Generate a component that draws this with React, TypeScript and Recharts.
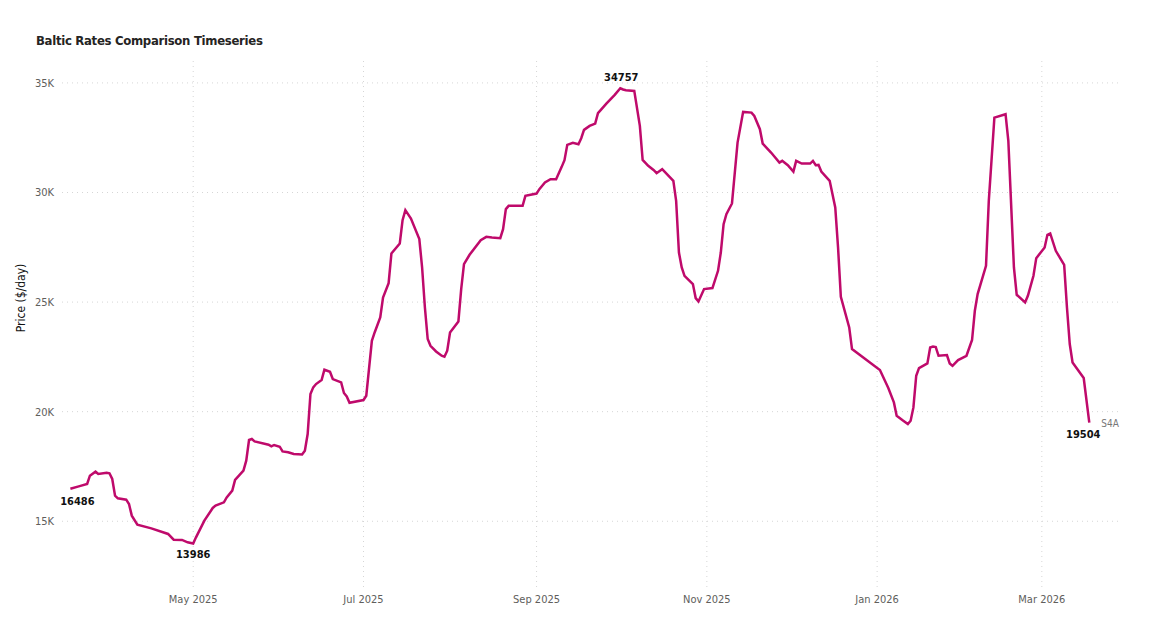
import React from 'react';
import { LineChart, Line, XAxis, YAxis, ReferenceLine } from 'recharts';

const dates = [
  '2025-03-18','2025-03-21','2025-03-24','2025-03-25','2025-03-27','2025-03-28','2025-03-31','2025-04-01','2025-04-02','2025-04-03',
  '2025-04-04','2025-04-07','2025-04-08','2025-04-09','2025-04-11','2025-04-16','2025-04-22','2025-04-24','2025-04-27','2025-04-29',
  '2025-05-01','2025-05-02','2025-05-05','2025-05-08','2025-05-09','2025-05-12','2025-05-13','2025-05-15','2025-05-16','2025-05-19',
  '2025-05-20','2025-05-21','2025-05-22','2025-05-23','2025-05-28','2025-05-29','2025-05-30','2025-06-01','2025-06-02','2025-06-04',
  '2025-06-06','2025-06-09','2025-06-10','2025-06-11','2025-06-12','2025-06-13','2025-06-14','2025-06-16','2025-06-17','2025-06-19',
  '2025-06-20','2025-06-23','2025-06-24','2025-06-25','2025-06-26','2025-07-01','2025-07-02','2025-07-04','2025-07-05','2025-07-07',
  '2025-07-08','2025-07-10','2025-07-11','2025-07-14','2025-07-15','2025-07-16','2025-07-18','2025-07-21','2025-07-22','2025-07-23',
  '2025-07-24','2025-07-25','2025-07-27','2025-07-29','2025-07-30','2025-07-31','2025-08-01','2025-08-04','2025-08-05','2025-08-06',
  '2025-08-08','2025-08-12','2025-08-14','2025-08-16','2025-08-19','2025-08-20','2025-08-21','2025-08-22','2025-08-27','2025-08-28',
  '2025-09-01','2025-09-02','2025-09-04','2025-09-06','2025-09-08','2025-09-10','2025-09-11','2025-09-12','2025-09-14','2025-09-16',
  '2025-09-17','2025-09-18','2025-09-20','2025-09-22','2025-09-23','2025-09-26','2025-09-29','2025-10-01','2025-10-02','2025-10-03',
  '2025-10-06','2025-10-08','2025-10-09','2025-10-11','2025-10-13','2025-10-14','2025-10-16','2025-10-20','2025-10-21','2025-10-22',
  '2025-10-23','2025-10-24','2025-10-27','2025-10-28','2025-10-29','2025-10-31','2025-11-03','2025-11-05','2025-11-06','2025-11-07',
  '2025-11-08','2025-11-10','2025-11-12','2025-11-14','2025-11-17','2025-11-18','2025-11-20','2025-11-21','2025-11-24','2025-11-27',
  '2025-11-28','2025-11-30','2025-12-02','2025-12-03','2025-12-05','2025-12-08','2025-12-09','2025-12-10','2025-12-11','2025-12-12',
  '2025-12-15','2025-12-17','2025-12-18','2025-12-19','2025-12-22','2025-12-23','2026-01-02','2026-01-05','2026-01-07','2026-01-08',
  '2026-01-10','2026-01-12','2026-01-13','2026-01-14','2026-01-15','2026-01-16','2026-01-19','2026-01-20','2026-01-21','2026-01-22',
  '2026-01-23','2026-01-26','2026-01-27','2026-01-28','2026-01-30','2026-02-02','2026-02-04','2026-02-05','2026-02-06','2026-02-09',
  '2026-02-10','2026-02-12','2026-02-16','2026-02-17','2026-02-19','2026-02-20','2026-02-23','2026-02-24','2026-02-26','2026-02-27',
  '2026-03-02','2026-03-03','2026-03-04','2026-03-06','2026-03-09','2026-03-10','2026-03-11','2026-03-12','2026-03-16','2026-03-18',
];

const s4a = [
  16486,16590,16700,17080,17262,17155,17216,17190,16928,16167,
  16045,15985,15788,15255,14845,14677,14420,14160,14150,14040,
  13986,14266,15027,15607,15712,15863,16090,16395,16883,17307,
  17763,18707,18752,18643,18493,18415,18480,18402,18188,18150,
  18070,18050,18220,18980,20805,21110,21260,21443,21913,21822,
  21489,21333,20850,20696,20408,20530,20727,23235,23614,24297,
  25210,25866,27216,27672,28739,29195,28812,27873,26578,24754,
  23313,23007,22748,22551,22506,22780,23614,24115,25593,26733,
  27157,27827,27978,27950,27918,28329,29241,29391,29391,29847,
  29952,30153,30454,30609,30609,31170,31475,32173,32264,32204,
  32477,32857,33040,33145,33618,34058,34453,34757,34700,34667,
  34635,33040,31489,31216,31019,30882,31064,30531,29619,27262,
  26578,26199,25821,25182,25030,25593,25638,26426,27262,28557,
  29013,29500,32278,33678,33646,33495,32887,32233,31822,31367,
  31443,31246,30955,31443,31321,31321,31443,31246,31260,30955,
  30531,29314,27490,25242,23842,22857,21899,21078,20422,19815,
  19619,19436,19587,20194,21640,21990,22200,22930,22975,22950,
  22551,22583,22200,22095,22355,22551,23268,24603,25365,26655,
  29619,33418,33573,32355,26578,25333,24983,25287,26199,27004,
  27490,28069,28130,27339,26700,24754,23085,22246,21534,19504,
];

const seriesName = 'S4A';
const tickDates = ['2025-05-01', '2025-07-01', '2025-09-01', '2025-11-01', '2026-01-01', '2026-03-01'];
const tickLabels = ['May 2025', 'Jul 2025', 'Sep 2025', 'Nov 2025', 'Jan 2026', 'Mar 2026'];
const yTicks = [15000, 20000, 25000, 30000, 35000];
const xDomain = ['2025-03-15', '2026-03-29'];
const yDomain = [12000, 36000];

const data = dates.map((d, i) => ({ t: Date.parse(d), v: s4a[i] }));
const xTicks = tickDates.map((d) => Date.parse(d));

const iFirst = 0;
const iLast = s4a.length - 1;
const iMax = s4a.indexOf(Math.max(...s4a));
const iMin = s4a.indexOf(Math.min(...s4a));

const FONT = "'DejaVu Sans Condensed', Roboto, sans-serif";
const LINE = '#BF0A6B';
const TICK = '#605E5C';
const GRID = '#d6d6d6';

const renderLabel = (props: any) => {
  const { x, y, index, value } = props;
  const style = { fontFamily: FONT, fontSize: 11, fontWeight: 700, fill: '#111' } as any;
  if (index === iFirst) {
    return <text x={x + 7} y={y + 16} textAnchor="middle" style={style}>{value}</text>;
  }
  if (index === iMin) {
    return <text x={x} y={y + 15} textAnchor="middle" style={style}>{value}</text>;
  }
  if (index === iMax) {
    return <text x={x + 1} y={y - 7} textAnchor="middle" style={style}>{value}</text>;
  }
  if (index === iLast) {
    return (
      <g>
        <text x={x - 6} y={y + 15} textAnchor="middle" style={style}>{value}</text>
        <text x={x + 12} y={y + 4} textAnchor="start" style={{ fontFamily: FONT, fontSize: 10, fill: '#777' }}>{seriesName}</text>
      </g>
    );
  }
  return <g />;
};

const renderYLabel = (props: any) => {
  const vb = props.viewBox || {};
  const cx = (vb.x || 0) + 21;
  const cy = (vb.y || 0) + (vb.height || 0) / 2 - 26;
  return (
    <text
      x={cx}
      y={cy}
      transform={`rotate(-90, ${cx}, ${cy})`}
      textAnchor="middle"
      dominantBaseline="central"
      style={{ fill: '#111', fontSize: 12, fontFamily: FONT }}
    >
      Price ($/day)
    </text>
  );
};

const fmtY = (v: number) => `${v / 1000}K`;
const fmtX = (t: number) => {
  const i = xTicks.indexOf(t);
  return i >= 0 ? tickLabels[i] : '';
};

export default function App() {
  return (
    <div style={{ position: 'absolute', left: 0, top: 0, width: 1168, height: 636, background: '#fff' }}>
      <div
        style={{
          position: 'absolute', left: 36, top: 33, fontFamily: FONT, fontWeight: 700, fontSize: 13,
          letterSpacing: -0.3, color: '#252423', whiteSpace: 'nowrap',
        }}
      >
        Baltic Rates Comparison Timeseries
      </div>
      <LineChart width={1168} height={636} data={data} margin={{ top: 61, right: 0, bottom: 0, left: 0 }}>
        <XAxis
          dataKey="t"
          type="number"
          scale="time"
          domain={xDomain.map((d) => Date.parse(d))}
          ticks={xTicks}
          tickFormatter={fmtX}
          axisLine={false}
          tickLine={false}
          tick={{ fill: TICK, fontSize: 11, fontFamily: FONT }}
          height={49}
        />
        <YAxis
          yAxisId="left"
          domain={yDomain}
          ticks={yTicks}
          tickFormatter={fmtY}
          axisLine={false}
          tickLine={false}
          width={62}
          tick={{ fill: TICK, fontSize: 11, fontFamily: FONT }}
          label={{ content: renderYLabel }}
        />
        <YAxis
          yAxisId="right"
          orientation="right"
          domain={yDomain}
          ticks={yTicks}
          tickFormatter={fmtY}
          axisLine={false}
          tickLine={false}
          width={48}
          tick={{ fill: TICK, fontSize: 11, fontFamily: FONT }}
        />
        {yTicks.map((v) => (
          <ReferenceLine key={'h' + v} yAxisId="left" y={v} stroke={GRID} strokeDasharray="1 4" />
        ))}
        {xTicks.map((t) => (
          <ReferenceLine key={'v' + t} yAxisId="left" x={t} stroke={GRID} strokeDasharray="1 4" />
        ))}
        <Line
          yAxisId="left"
          type="linear"
          dataKey="v"
          stroke={LINE}
          strokeWidth={2.5}
          dot={false}
          isAnimationActive={false}
          label={renderLabel}
        />
      </LineChart>
    </div>
  );
}
